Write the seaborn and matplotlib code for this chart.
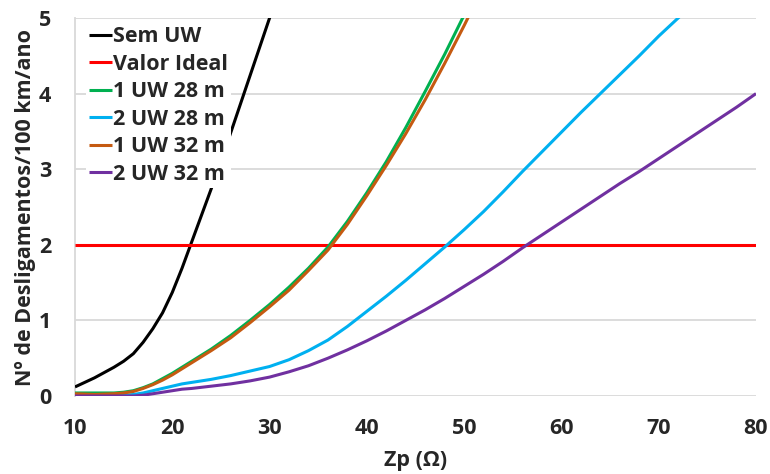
import matplotlib
matplotlib.use("Agg")
import matplotlib.pyplot as plt
import seaborn as sns
import pandas as pd

# ---- data ----
series_names = ["Sem UW", "Valor Ideal", "1 UW 28 m", "2 UW 28 m", "1 UW 32 m", "2 UW 32 m"]
colors = ["#000000", "#FF0000", "#00B050", "#00B0F0", "#C55A11", "#7030A0"]

x_sem = [10, 11, 12, 13, 14, 15, 16, 17, 18, 19, 20, 21, 22, 23, 24, 25, 26, 27, 28, 29, 30, 31]
y_sem = [0.12, 0.18, 0.24, 0.31, 0.38, 0.46, 0.56, 0.71, 0.89, 1.1, 1.37, 1.69, 2.04, 2.39, 2.74, 3.1,
         3.48, 3.86, 4.24, 4.62, 5.0, 5.38]

x_ideal = [10, 80]
y_ideal = [2, 2]

x_1uw28 = [10, 12, 14, 15, 16, 17, 18, 19, 20, 21, 22, 23, 24, 26, 28, 30, 32, 34, 36, 38, 40, 42,
           44, 46, 48, 50, 51]
y_1uw28 = [0.04, 0.04, 0.04, 0.05, 0.07, 0.11, 0.16, 0.23, 0.3, 0.38, 0.46, 0.54, 0.62, 0.8, 1.0,
           1.21, 1.44, 1.69, 1.97, 2.31, 2.69, 3.1, 3.55, 4.03, 4.52, 5.04, 5.3]

x_2uw28 = [10, 12, 14, 15, 16, 17, 18, 19, 20, 21, 22, 23, 24, 26, 28, 30, 32, 34, 36, 38, 40, 42,
           44, 46, 48, 50, 52, 54, 56, 58, 60, 62, 64, 66, 68, 70, 72, 73]
y_2uw28 = [0.0, 0.0, 0.0, 0.01, 0.02, 0.04, 0.07, 0.1, 0.13, 0.16, 0.18, 0.2, 0.22, 0.27, 0.33,
           0.39, 0.48, 0.6, 0.74, 0.92, 1.12, 1.32, 1.53, 1.75, 1.97, 2.2, 2.44, 2.7, 2.97, 3.23,
           3.49, 3.75, 4.0, 4.25, 4.5, 4.76, 5.0, 5.12]

x_1uw32 = [10, 12, 14, 15, 16, 17, 18, 19, 20, 21, 22, 23, 24, 26, 28, 30, 32, 34, 36, 38, 40, 42,
           44, 46, 48, 50, 51]
y_1uw32 = [0.03, 0.02, 0.03, 0.04, 0.06, 0.1, 0.15, 0.21, 0.28, 0.36, 0.44, 0.52, 0.6, 0.77, 0.97,
           1.18, 1.4, 1.66, 1.93, 2.27, 2.65, 3.05, 3.47, 3.92, 4.4, 4.9, 5.16]

x_2uw32 = [10, 12, 14, 16, 17, 18, 19, 20, 21, 22, 24, 26, 28, 30, 32, 34, 36, 38, 40, 42, 44, 46,
           48, 50, 52, 54, 56, 58, 60, 62, 64, 66, 68, 70, 72, 74, 76, 78, 80]
y_2uw32 = [0.0, 0.0, 0.0, 0.0, 0.01, 0.03, 0.05, 0.07, 0.09, 0.1, 0.13, 0.16, 0.2, 0.25, 0.32, 0.4,
           0.5, 0.61, 0.73, 0.86, 1.0, 1.14, 1.29, 1.45, 1.61, 1.78, 1.96, 2.13, 2.3, 2.47, 2.64,
           2.81, 2.97, 3.14, 3.31, 3.48, 3.65, 3.82, 4.0]

x_ticks = [10, 20, 30, 40, 50, 60, 70, 80]
y_ticks = [0, 1, 2, 3, 4, 5]

# ---- build long-form table ----
xs = [x_sem, x_ideal, x_1uw28, x_2uw28, x_1uw32, x_2uw32]
ys = [y_sem, y_ideal, y_1uw28, y_2uw28, y_1uw32, y_2uw32]
frames = [pd.DataFrame({"Zp": x, "val": y, "serie": n}) for n, x, y in zip(series_names, xs, ys)]
df = pd.concat(frames, ignore_index=True)

sns.set_theme(style="white")
plt.rcParams["font.family"] = ["Open Sans", "DejaVu Sans"]
plt.rcParams["font.weight"] = "bold"

FS = 15.5
fig = plt.figure(figsize=(7.7, 4.74), dpi=100)
ax = fig.add_axes([75 / 770, 1 - 396 / 474, (756 - 75) / 770, (396 - 18) / 474])

palette = dict(zip(series_names, colors))
sns.lineplot(data=df, x="Zp", y="val", hue="serie", hue_order=series_names, palette=palette,
             linewidth=2.2, ax=ax, sort=False, estimator=None, zorder=3)
for ln in ax.get_lines():
    ln.set_solid_joinstyle("round")
    ln.set_solid_capstyle("butt")

ax.set_xlim(10, 80)
ax.set_ylim(0, 5)
ax.set_xticks(x_ticks)
ax.set_yticks(y_ticks)
ax.tick_params(axis="x", length=0, labelsize=FS, pad=16)
ax.tick_params(axis="y", length=0, labelsize=FS, pad=17)
for lab in ax.get_xticklabels() + ax.get_yticklabels():
    lab.set_fontweight("bold")
ax.yaxis.grid(True, color="#d9d9d9", linewidth=1.3, zorder=0)
ax.xaxis.grid(False)
for s in ["top", "right", "bottom"]:
    ax.spines[s].set_visible(False)
ax.spines["left"].set_color("#d9d9d9")
ax.spines["left"].set_linewidth(1.3)
ax.set_axisbelow(True)

ax.set_xlabel("Zp (Ω)", fontsize=FS, fontweight="bold", labelpad=8)
ax.set_ylabel("Nº de Desligamentos/100 km/ano", fontsize=FS, fontweight="bold", labelpad=2)

handles, labels = ax.get_legend_handles_labels()
leg = ax.legend(handles, labels, loc="upper left",
                bbox_to_anchor=((86 - 75) / 681, (396 - 23) / 378), frameon=True,
                facecolor="white", edgecolor="none", framealpha=1, fancybox=False,
                fontsize=FS, handlelength=1.05, handletextpad=0.05, labelspacing=0.3,
                borderpad=0.15, borderaxespad=0.0)
for t in leg.get_texts():
    t.set_fontweight("bold")
leg.set_zorder(5)

fig.savefig("out.png", dpi=100)
